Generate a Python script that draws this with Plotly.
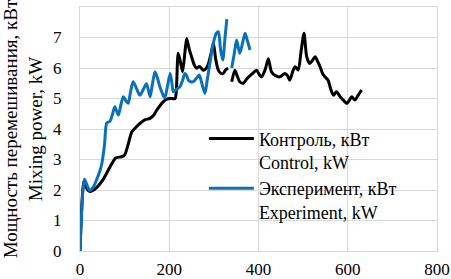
import plotly.graph_objects as go

control_x = [0, 9, 15, 22, 37, 52, 67, 80, 93, 100, 108, 116, 125, 134, 145, 157, 165, 172, 187, 195,
             202, 213, 216, 220, 225, 230, 235, 239, 245, 250, 256, 261, 268, 276, 282, 288, 294, 299,
             304, 310, 316, 321, 327, 332, 336,
             340, 347, 352, 358, 366, 374, 385, 396, 401, 407, 415, 422, 429, 438, 448, 459, 465, 470,
             477, 482, 489, 495, 502, 508, 515, 521, 527, 533, 538, 544, 549, 556, 562, 568, 575, 583,
             590, 598, 604, 609, 616, 623, 631]
control_y = [0, 2.3, 2.05, 1.95, 2.08, 2.35, 2.75, 3.05, 3.09, 3.15, 3.5, 3.9, 4.05, 4.18, 4.3, 4.35, 4.45,
             4.62, 4.9, 4.98, 5.0, 5.0, 5.3, 6.48, 6.2, 5.88, 6.5, 6.97, 6.6, 6.37, 6.1, 5.99, 6.05, 5.93,
             5.98, 6.15, 6.5, 6.81, 6.3, 5.93, 5.82, 5.82, 5.95, 5.99, None,
             5.55, 5.93, 5.75, 5.55, 5.5, 5.65, 5.8, 5.93, 5.8, 5.71, 5.95, 6.3, 5.88, 5.75, 5.71, 5.82,
             5.75, 5.6, 5.9, 6.04, 5.93, 6.5, 7.14, 6.37, 6.15, 6.25, 6.37, 6.2, 6.04, 5.8, 5.71, 5.6,
             5.3, 5.11, 5.22, 5.06, 4.95, 4.84, 4.95, 5.06, 4.95, 5.1, 5.28]

experiment_x = [0, 10, 16, 22, 30, 37, 44, 49, 55, 60, 67, 73, 78, 86, 91, 97, 102, 108, 113, 119, 126,
                134, 142, 149, 157, 162, 168, 174, 179, 185, 190, 196, 202, 206, 209, 216, 224, 230, 235,
                239, 243, 248, 254, 260, 267, 273, 280, 285, 291, 296, 301, 306, 310, 315, 320, 325, 329,
                335,
                340, 346, 351, 358, 364, 370, 375, 381]
experiment_y = [0, 2.35, 2.15, 1.98, 2.1, 2.33, 2.6, 2.87, 3.5, 4.2, 4.25, 4.5, 4.73, 4.46, 4.75, 5.06,
                4.95, 4.84, 5.2, 5.55, 5.35, 5.11, 5.3, 5.48, 5.06, 5.45, 5.88, 5.65, 5.39, 5.15, 5.02,
                5.4, 5.82, 5.5, 5.22, 5.3, 5.39, 5.6, 5.82, 5.75, 5.6, 5.55, 5.55, 5.65, 5.77, 5.5, 5.17,
                5.6, 6.15, 6.6, 6.95, 7.15, 7.19, 6.6, 6.26, 7.0, 7.6, None,
                6.0, 6.5, 6.92, 6.48, 6.8, 7.14, 6.9, 6.59]

x_ticks = [0, 200, 400, 600, 800]
y_ticks = [0, 1, 2, 3, 4, 5, 6, 7, 8]

FONT = "Times New Roman, Tinos, Times, serif"
GRID = "#d9d9d9"

fig = go.Figure()
fig.add_trace(go.Scatter(
    x=control_x, y=control_y, mode="lines", connectgaps=False,
    name="Контроль, кВт<br>Control, kW",
    line=dict(color="#000000", width=3, shape="spline", smoothing=0.7),
))
fig.add_trace(go.Scatter(
    x=experiment_x, y=experiment_y, mode="lines", connectgaps=False,
    name="Эксперимент, кВт<br>Experiment, kW",
    line=dict(color="#0a70b8", width=3, shape="spline", smoothing=0.7),
))

fig.update_layout(
    width=451, height=279,
    margin=dict(l=80, r=14, t=7, b=28, autoexpand=False),
    paper_bgcolor="white", plot_bgcolor="white",
    font=dict(family=FONT, size=18, color="black"),
    showlegend=True,
    legend=dict(x=0.347, y=0.31, xanchor="left", yanchor="middle",
                bgcolor="rgba(0,0,0,0)", font=dict(family=FONT, size=18),
                valign="top", itemwidth=45, tracegroupgap=0),
    xaxis=dict(range=[0, 800], tickvals=x_ticks, showgrid=True, gridcolor=GRID, gridwidth=1,
               zeroline=False, showline=True, linecolor=GRID, mirror=True, automargin=False,
               ticks="outside", ticklen=3, tickcolor="rgba(0,0,0,0)",
               tickfont=dict(family=FONT, size=17)),
    yaxis=dict(range=[0, 8], tickvals=y_ticks, showgrid=True, gridcolor=GRID, gridwidth=1,
               zeroline=False, showline=True, linecolor=GRID, mirror=True, automargin=False,
               ticks="outside", ticklen=14, tickcolor="rgba(0,0,0,0)",
               tickfont=dict(family=FONT, size=17),
               title=dict(text="Мощность перемешивания, кВт<br>Mixing power, kW",
                          font=dict(family=FONT, size=19))),
)

fig.write_html("out.html", config={"displayModeBar": False},
               post_script="document.body.style.margin='0';")
